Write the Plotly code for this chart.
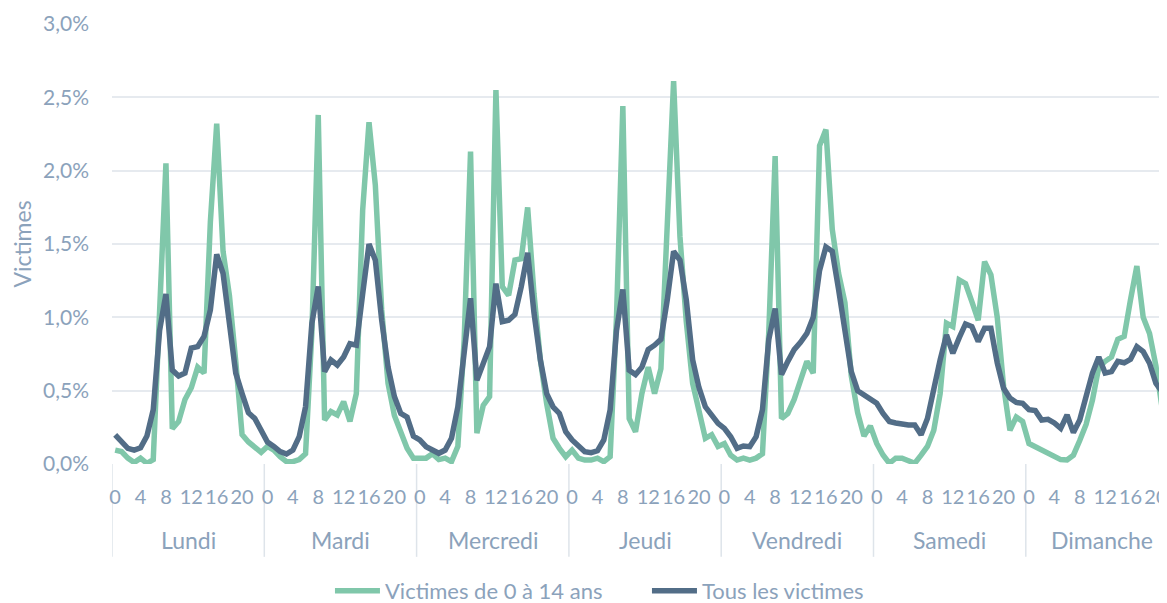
import plotly.graph_objects as go

# ---------------- data (share of victims per hour, in %) ----------------
days = ["Lundi", "Mardi", "Mercredi", "Jeudi", "Vendredi", "Samedi", "Dimanche"]
hours = list(range(24))
tick_hours = [0, 4, 8, 12, 16, 20]
y_ticks = [0.0, 0.5, 1.0, 1.5, 2.0, 2.5, 3.0]

series_names = ["Victimes de 0 à 14 ans", "Tous les victimes"]

enfants_lundi = [0.095, 0.085, 0.04, 0.01, 0.04, 0.005, 0.03, 0.95, 2.05, 0.24, 0.29, 0.44,
                 0.52, 0.66, 0.62, 1.65, 2.32, 1.45, 1.15, 0.70, 0.20, 0.15, 0.12, 0.08]
enfants_mardi = [0.12, 0.095, 0.05, 0.016, 0.016, 0.03, 0.07, 0.90, 2.38, 0.30, 0.357, 0.334,
                 0.425, 0.29, 0.48, 1.73, 2.33, 1.90, 1.05, 0.55, 0.33, 0.23, 0.107, 0.04]
enfants_mercredi = [0.04, 0.04, 0.07, 0.03, 0.04, 0.016, 0.12, 0.85, 2.13, 0.21, 0.40, 0.46,
                    2.55, 1.21, 1.15, 1.39, 1.40, 1.75, 1.16, 0.71, 0.41, 0.175, 0.107, 0.05]
enfants_jeudi = [0.095, 0.04, 0.027, 0.027, 0.04, 0.016, 0.05, 1.00, 2.44, 0.31, 0.22, 0.48,
                 0.66, 0.48, 0.65, 1.60, 2.61, 1.55, 0.97, 0.55, 0.35, 0.175, 0.20, 0.12]
enfants_vendredi = [0.14, 0.06, 0.027, 0.04, 0.027, 0.04, 0.07, 0.90, 2.10, 0.31, 0.345, 0.44,
                    0.57, 0.70, 0.62, 2.17, 2.28, 1.60, 1.30, 1.10, 0.60, 0.35, 0.19, 0.26]
enfants_samedi = [0.14, 0.061, 0.005, 0.04, 0.04, 0.027, 0.005, 0.06, 0.12, 0.23, 0.48, 0.96,
                  0.937, 1.255, 1.23, 1.107, 0.98, 1.38, 1.29, 1.00, 0.53, 0.23, 0.32, 0.29]
enfants_dimanche = [0.14, 0.118, 0.095, 0.073, 0.05, 0.03, 0.027, 0.06, 0.16, 0.27, 0.436, 0.66,
                    0.70, 0.73, 0.85, 0.87, 1.12, 1.35, 1.00, 0.89, 0.67, 0.37, 0.08, 0.05]

tous_lundi = [0.198, 0.15, 0.107, 0.095, 0.11, 0.19, 0.37, 0.91, 1.16, 0.64, 0.60, 0.62,
              0.79, 0.80, 0.87, 1.05, 1.43, 1.30, 0.97, 0.62, 0.48, 0.35, 0.31, 0.22]
tous_mardi = [0.15, 0.12, 0.085, 0.068, 0.095, 0.186, 0.39, 0.96, 1.21, 0.63, 0.71, 0.675,
              0.73, 0.82, 0.81, 1.16, 1.50, 1.39, 0.98, 0.66, 0.46, 0.345, 0.32, 0.19]
tous_mercredi = [0.164, 0.118, 0.10, 0.073, 0.095, 0.175, 0.39, 0.80, 1.13, 0.57, 0.69, 0.80,
                 1.23, 0.97, 0.98, 1.02, 1.21, 1.44, 1.03, 0.71, 0.48, 0.39, 0.345, 0.22]
tous_jeudi = [0.164, 0.118, 0.084, 0.077, 0.09, 0.164, 0.37, 0.91, 1.19, 0.64, 0.61, 0.66,
              0.78, 0.81, 0.85, 1.12, 1.45, 1.39, 1.12, 0.71, 0.52, 0.39, 0.334, 0.277]
tous_vendredi = [0.243, 0.186, 0.107, 0.123, 0.118, 0.186, 0.37, 0.85, 1.06, 0.61, 0.70, 0.78,
                 0.83, 0.89, 1.00, 1.32, 1.48, 1.45, 1.19, 0.89, 0.63, 0.50, 0.47, 0.45]
tous_samedi = [0.414, 0.345, 0.29, 0.28, 0.27, 0.266, 0.266, 0.20, 0.31, 0.52, 0.71, 0.88,
               0.755, 0.86, 0.955, 0.937, 0.835, 0.925, 0.925, 0.69, 0.516, 0.45, 0.42, 0.414]
tous_dimanche = [0.37, 0.364, 0.30, 0.305, 0.28, 0.243, 0.334, 0.214, 0.30, 0.46, 0.62, 0.73,
                 0.62, 0.63, 0.70, 0.69, 0.714, 0.80, 0.766, 0.687, 0.55, 0.49, 0.415, 0.38]

enfants = (enfants_lundi + enfants_mardi + enfants_mercredi + enfants_jeudi
           + enfants_vendredi + enfants_samedi + enfants_dimanche)
tous = (tous_lundi + tous_mardi + tous_mercredi + tous_jeudi
        + tous_vendredi + tous_samedi + tous_dimanche)

# ---------------- styling ----------------
FONT = "Lato, 'Open Sans', sans-serif"
TXT = "#8BA2BB"
GRID = "#E6EAEF"
GREEN = "#80C7AA"
DARK = "#526D87"

x = [d * 24 + h for d in range(len(days)) for h in hours]
tickvals = [d * 24 + h for d in range(len(days)) for h in tick_hours]
ticktext = [str(h) for d in range(len(days)) for h in tick_hours]
y_ticktext = [f"{v:.1f}%".replace(".", ",") for v in y_ticks]

fig = go.Figure()
fig.add_trace(go.Scatter(x=x, y=enfants, mode="lines", name=series_names[0],
                         line=dict(color=GREEN, width=5.5)))
fig.add_trace(go.Scatter(x=x, y=tous, mode="lines", name=series_names[1],
                         line=dict(color=DARK, width=5.5)))

# day separators and day labels (second level of the category axis)
shapes = []
annotations = []
for d in range(len(days) + 1):
    shapes.append(dict(type="line", xref="x", yref="paper",
                       x0=d * 24 - 0.5, x1=d * 24 - 0.5, y0=0, y1=-0.211,
                       line=dict(color="#DEE4EA", width=1.5), layer="below"))
for d, name in enumerate(days):
    annotations.append(dict(x=d * 24 + 11.5, y=-0.1736, xref="x", yref="paper",
                            text=name, showarrow=False, yanchor="middle",
                            font=dict(family=FONT, size=23, color=TXT)))

fig.update_layout(
    width=1159, height=603,
    margin=dict(l=104, r=0, t=16, b=147, autoexpand=False),
    paper_bgcolor="white", plot_bgcolor="white",
    font=dict(family=FONT, size=21, color=TXT),
    showlegend=True,
    legend=dict(orientation="h", x=0.2066, xanchor="left", y=-0.2886, yanchor="middle",
                font=dict(family=FONT, size=22, color=TXT),
                itemwidth=45, entrywidth=257, entrywidthmode="pixels",
                tracegroupgap=0, bgcolor="rgba(0,0,0,0)"),
    shapes=shapes,
    annotations=annotations,
    xaxis=dict(range=[-0.5, 165.75], tickmode="array", tickvals=tickvals, ticktext=ticktext,
               tickangle=0, showgrid=False, zeroline=False, showline=False,
               ticks="", ticklabelstandoff=19, ticklabeloverflow="allow", automargin=False,
               tickfont=dict(family=FONT, size=20, color=TXT)),
    yaxis=dict(range=[0, 3.0001], tickmode="array", tickvals=y_ticks, ticktext=y_ticktext,
               showgrid=True, gridcolor=GRID, gridwidth=2, automargin=False,
               zeroline=False, showline=False, ticks="", ticklabelstandoff=22,
               tickfont=dict(family=FONT, size=21, color=TXT),
               title=dict(text="Victimes", standoff=26,
                          font=dict(family=FONT, size=23, color=TXT))),
)

fig.write_html("out.html")
